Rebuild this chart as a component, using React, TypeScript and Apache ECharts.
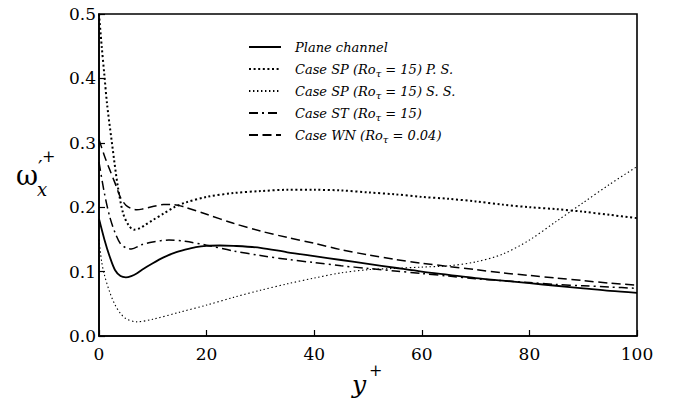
import React, { useEffect, useRef } from "react";
import * as echarts from "echarts";

const seriesNames = [
  "Plane channel",
  "Case SP (Ro_τ = 15) P. S.",
  "Case SP (Ro_τ = 15) S. S.",
  "Case ST (Ro_τ = 15)",
  "Case WN (Ro_τ = 0.04)",
];

const xTicks = [0, 20, 40, 60, 80, 100];
const yTicks = [0, 0.1, 0.2, 0.3, 0.4, 0.5];

const planeChannel = [
  [0, 0.182], [1, 0.15], [2, 0.123], [3, 0.102], [4, 0.093], [5, 0.091], [6, 0.093],
  [7, 0.097], [8, 0.103], [10, 0.113], [12, 0.122], [14, 0.129], [16, 0.134], [18, 0.138],
  [20, 0.14], [22.5, 0.1405], [25, 0.14], [30, 0.137], [35, 0.13], [40, 0.124], [45, 0.118],
  [50, 0.112], [55, 0.106], [60, 0.1], [65, 0.095], [70, 0.09], [75, 0.086], [80, 0.082],
  [85, 0.078], [90, 0.074], [95, 0.07], [100, 0.067],
];

const spPressureSide = [
  [0, 0.5], [0.5, 0.45], [1, 0.405], [1.5, 0.36], [2.4, 0.3], [3.5, 0.232], [4.5, 0.19],
  [5.5, 0.172], [6.5, 0.165], [7.5, 0.167], [8.5, 0.172], [10, 0.18], [12, 0.19], [14, 0.2],
  [16, 0.207], [20, 0.216], [25, 0.222], [30, 0.225], [35, 0.227], [40, 0.227], [45, 0.226],
  [50, 0.223], [55, 0.22], [60, 0.216], [65, 0.213], [70, 0.209], [75, 0.204], [80, 0.2],
  [85, 0.197], [90, 0.193], [95, 0.188], [100, 0.183],
];

const spSuctionSide = [
  [0, 0.15], [0.5, 0.115], [1, 0.095], [2, 0.068], [3, 0.048], [4, 0.035], [5, 0.027],
  [7, 0.022], [10, 0.026], [15, 0.037], [20, 0.048], [25, 0.06], [30, 0.071], [35, 0.081],
  [40, 0.09], [45, 0.098], [50, 0.103], [55, 0.105], [60, 0.107], [65, 0.109], [70, 0.115],
  [75, 0.127], [80, 0.149], [85, 0.178], [90, 0.207], [95, 0.236], [100, 0.263],
];

const caseST = [
  [0, 0.27], [1, 0.222], [2, 0.185], [3, 0.16], [4, 0.143], [5, 0.137], [6, 0.135],
  [8, 0.142], [10, 0.146], [13, 0.149], [16, 0.147], [20, 0.141], [25, 0.132], [30, 0.125],
  [35, 0.119], [40, 0.114], [45, 0.109], [50, 0.105], [55, 0.101], [60, 0.097], [65, 0.093],
  [70, 0.089], [75, 0.086], [80, 0.083], [85, 0.08], [90, 0.078], [95, 0.076], [100, 0.074],
];

const caseWN = [
  [0, 0.305], [1, 0.28], [2, 0.258], [3, 0.237], [4, 0.215], [5, 0.203], [6, 0.198],
  [7, 0.196], [8, 0.197], [10, 0.201], [12, 0.204], [14, 0.204], [16, 0.2], [20, 0.189],
  [25, 0.175], [30, 0.163], [35, 0.153], [40, 0.144], [45, 0.134], [50, 0.126], [55, 0.119],
  [60, 0.113], [65, 0.108], [70, 0.103], [75, 0.098], [80, 0.094], [85, 0.09], [90, 0.086],
  [95, 0.082], [100, 0.079],
];

const seriesData = [planeChannel, spPressureSide, spSuctionSide, caseST, caseWN];
const seriesWidths = [1.8, 2, 1.1, 1.5, 1.5];
const seriesDash: any[] = ["solid", [2, 2.6], [1.4, 2.6], [9, 4, 2, 4], [9, 4.5]];

const SERIF = "DejaVu Serif";

export default function App() {
  const ref = useRef<HTMLDivElement>(null);

  useEffect(() => {
    if (!ref.current) return;
    const chart = echarts.init(ref.current, null, { renderer: "svg" });

    const option: any = {
      animation: false,
      backgroundColor: "#fff",
      grid: {
        left: 99,
        right: 40,
        top: 14,
        bottom: 67,
        show: true,
        borderColor: "#000",
        borderWidth: 1.6,
      },
      xAxis: {
        type: "value",
        min: xTicks[0],
        max: xTicks[xTicks.length - 1],
        interval: 20,
        axisLine: { show: true, lineStyle: { color: "#000", width: 1.6 } },
        axisTick: { show: true, inside: true, length: 6, lineStyle: { color: "#000", width: 1.2 } },
        axisLabel: { color: "#000", fontFamily: SERIF, fontSize: 17, margin: 9 },
        splitLine: { show: false },
      },
      yAxis: {
        type: "value",
        min: yTicks[0],
        max: yTicks[yTicks.length - 1],
        interval: 0.1,
        axisLine: { show: true, lineStyle: { color: "#000", width: 1.6 } },
        axisTick: { show: true, inside: true, length: 6, lineStyle: { color: "#000", width: 1.2 } },
        axisLabel: {
          color: "#000",
          fontFamily: SERIF,
          fontSize: 17,
          margin: 3,
          formatter: (v: number) => v.toFixed(1),
        },
        splitLine: { show: false },
      },
      legend: {
        orient: "vertical",
        left: 243,
        top: 33,
        itemWidth: 32,
        itemHeight: 12,
        itemGap: 4,
        data: seriesNames,
        itemStyle: { opacity: 0 },
        textStyle: {
          color: "#000",
          fontFamily: SERIF,
          fontStyle: "italic",
          fontSize: 13,
          lineHeight: 18,
          padding: [0, 0, 0, 9],
          rich: {
            sub: {
              color: "#000",
              fontFamily: SERIF,
              fontStyle: "italic",
              fontSize: 10,
              lineHeight: 10,
              verticalAlign: "bottom",
            },
          },
        },
        formatter: (name: string) => name.replace(/_(τ)/, "{sub|$1}"),
      },
      series: seriesNames.map((name, i) => ({
        name,
        type: "line",
        data: seriesData[i],
        showSymbol: false,
        symbol: "none",
        smooth: 0.3,
        lineStyle: { color: "#000", width: seriesWidths[i], type: seriesDash[i] },
        itemStyle: { color: "#000" },
      })),
      graphic: [
        { type: "text", left: 16, top: 162, style: { text: "ω", font: `27px ${SERIF}`, fill: "#000" } },
        { type: "text", left: 38, top: 158, style: { text: "′", font: `20px ${SERIF}`, fill: "#000" } },
        { type: "text", left: 42, top: 148, style: { text: "+", font: `16px ${SERIF}`, fill: "#000" } },
        { type: "text", left: 37, top: 180, style: { text: "x", font: `italic 18px ${SERIF}`, fill: "#000" } },
        { type: "text", left: 352, top: 372, style: { text: "y", font: `italic 25px ${SERIF}`, fill: "#000" } },
        { type: "text", left: 369, top: 362, style: { text: "+", font: `16px ${SERIF}`, fill: "#000" } },
      ],
    };

    chart.setOption(option);
    return () => chart.dispose();
  }, []);

  return (
    <div
      ref={ref}
      style={{ position: "fixed", left: 0, top: 0, width: 677, height: 403, background: "#fff" }}
    />
  );
}
